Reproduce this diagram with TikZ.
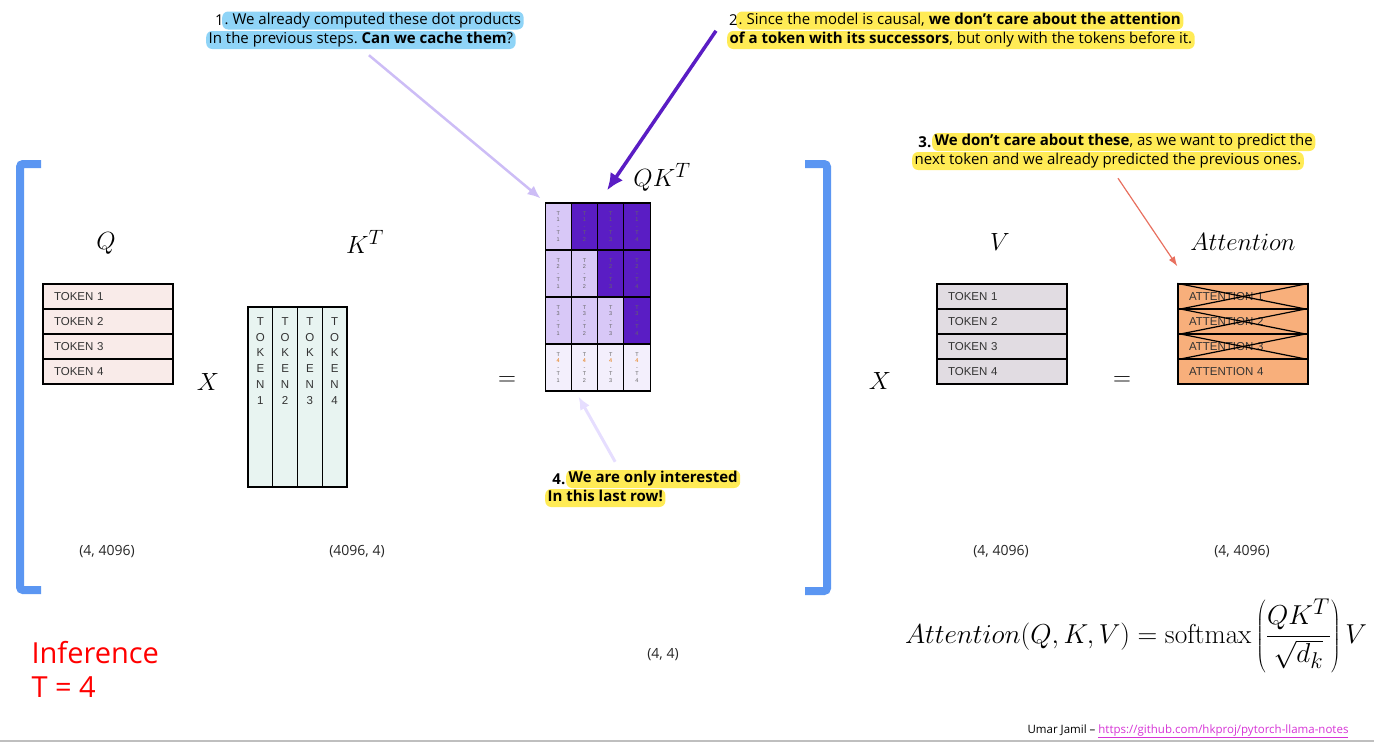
\documentclass[tikz,border=0pt]{standalone}
\usepackage{graphicx}
\usepackage[no-math]{fontspec}
\setmainfont{Open Sans}
\newfontfamily\tokfont{Liberation Sans}
\usetikzlibrary{arrows.meta}
\frenchspacing
\definecolor{bracketblue}{HTML}{5B96F2}
\definecolor{qfill}{HTML}{F9EBE9}
\definecolor{kfill}{HTML}{E8F4F1}
\definecolor{vfill}{HTML}{E1DCE2}
\definecolor{afill}{HTML}{F8AF7B}
\definecolor{qklav}{HTML}{D8C8F7}
\definecolor{qkdark}{HTML}{5A1DC4}
\definecolor{qkpale}{HTML}{F3EFFC}
\definecolor{hlblue}{HTML}{8FD4F7}
\definecolor{hlyellow}{HTML}{FFEB55}
\definecolor{arrlav}{HTML}{CDBDF6}
\definecolor{arrpale}{HTML}{E6DEFF}
\definecolor{arrsalmon}{HTML}{E8705F}
\definecolor{linkmag}{HTML}{D633D6}
\tikzset{
  >=Latex,
  bracket/.style={bracketblue, line width=8pt, rounded corners=3pt},
  mlabel/.style={font=\fontsize{24.88}{30}\selectfont},
  tokrow/.style={draw, line width=1.2pt, minimum width=130pt, minimum height=25pt,
    text width=108pt, inner xsep=11pt, align=left, text=black!80,
    font=\tokfont\fontsize{11.5}{13}\selectfont},
  kcol/.style={draw, line width=1.2pt, fill=kfill, minimum width=24.75pt, minimum height=180pt},
  kletters/.style={anchor=north, align=center, inner sep=0pt, text=black!80,
    font=\tokfont\fontsize{11.5}{15.7}\selectfont},
  qkcell/.style={draw, line width=1.2pt, minimum width=26.25pt, minimum height=47pt,
    align=center, inner sep=0pt, text=black!60, font=\tokfont\fontsize{5.5}{6.6}\selectfont},
  notetxt/.style={font=\fontsize{15}{18}\selectfont, inner xsep=0.5pt},
  hl/.style={notetxt, rounded corners=6pt, inner xsep=2.5pt, inner ysep=1.5pt,
    text height=11pt, text depth=4pt, anchor=west},
  dimtxt/.style={font=\fontsize{14}{16}\selectfont, text=black!85},
  redtxt/.style={font=\fontsize{29}{34}\selectfont, text=red, anchor=base west}
}
\begin{document}
\begin{tikzpicture}[x=1pt,y=-1pt]
  \useasboundingbox (0,0) rectangle (1374,742);
  % brackets
  \draw[bracket] (41,164) -- (20,164) -- (20,590) -- (41,590);
  \draw[bracket] (805,164) -- (827,164) -- (827,591) -- (805,591);

  % Q
  \node[mlabel] (qlab) at (106,243) {$Q$};
  \foreach \i in {1,...,4}
    \node[tokrow, fill=qfill] (q\i) at (108,271.5+25*\i) {TOKEN \i};
  \node[mlabel] (x1) at (208,382) {$X$};

  % K transposed
  \node[mlabel] (klab) at (365,242) {$K^T$};
  \foreach \i in {1,...,4}{
    \node[kcol] (k\i) at (235.6+24.75*\i,397) {};
    \node[kletters] (kl\i) at ([yshift=-11pt]k\i.north) {T\\O\\K\\E\\N\\\i};
  }
  \node[mlabel] (eq1) at (507,381) {$=$};

  % QK^T
  \node[mlabel] (qklab) at (662,177) {$QK^T$};
  \foreach \i in {1,...,4}{
    \foreach \j in {1,...,4}{
      \ifnum\i=4 \def\cellcol{qkpale}\def\digcol{orange!90!black}%
      \else\ifnum\j>\i \def\cellcol{qkdark}\else\def\cellcol{qklav}\fi
        \def\digcol{black!60}\fi
      \node[qkcell, fill=\cellcol] (c\i\j) at (532+26.25*\j,179.5+47*\i)
        {T\\\textcolor{\digcol}{\i}\\-\\T\\\j};
    }
  }

  % V
  \node[mlabel] (x2) at (880,381) {$X$};
  \node[mlabel] (vlab) at (1000,242) {$V$};
  \foreach \i in {1,...,4}
    \node[tokrow, fill=vfill] (v\i) at (1002,271.5+25*\i) {TOKEN \i};
  \node[mlabel] (eq2) at (1122,381) {$=$};

  % attention
  \node[mlabel] (alab) at (1243,242) {$Attention$};
  \foreach \i in {1,...,4}
    \node[tokrow, fill=afill] (a\i) at (1243,271.5+25*\i) {ATTENTION \i};
  \foreach \i in {1,...,3}{
    \draw[line width=1.2pt] (a\i.north west) -- (a\i.south east);
    \draw[line width=1.2pt] (a\i.south west) -- (a\i.north east);
  }

  % shapes
  \node[dimtxt] (dq) at (107,552) {(4, 4096)};
  \node[dimtxt] (dk) at (357,552) {(4096, 4)};
  \node[dimtxt] (dqk) at (663,655) {(4, 4)};
  \node[dimtxt] (dv) at (1001,552) {(4, 4096)};
  \node[dimtxt] (da) at (1242,552) {(4, 4096)};

  % notes
  \node[hl, fill=hlblue] (n1a) at (222,20.5) {. We already computed these dot products};
  \node[notetxt, anchor=east] (n1num) at ([xshift=2.5pt]n1a.west) {1};
  \node[hl, fill=hlblue] (n1b) at (206,40) {In the previous steps. \textbf{Can we cache them}?};

  \node[hl, fill=hlyellow] (n2a) at (736,20.5) {. Since the model is causal, \textbf{we don’t care about the attention}};
  \node[notetxt, anchor=east] (n2num) at ([xshift=2.5pt]n2a.west) {2};
  \node[hl, fill=hlyellow] (n2b) at (727,40) {\textbf{of a token with its successors}, but only with the tokens before it.};

  \node[hl, fill=hlyellow] (n3a) at (932,142) {\textbf{We don’t care about these}, as we want to predict the};
  \node[notetxt, anchor=east] (n3num) at (n3a.west) {\textbf{3.}};
  \node[hl, fill=hlyellow] (n3b) at (912,161) {next token and we already predicted the previous ones.};

  \node[hl, fill=hlyellow] (n4a) at (566,479) {\textbf{We are only interested}};
  \node[notetxt, anchor=east] (n4num) at (n4a.west) {\textbf{4.}};
  \node[hl, fill=hlyellow] (n4b) at (545,498) {\textbf{In this last row!}};

  % arrows
  \draw[->, arrlav, line width=2.5pt, >={Latex[length=13pt,width=11pt]}]
    ([xshift=8pt,yshift=-6pt]n1b.south) -- ([xshift=-4pt,yshift=4pt]c11.north west);
  \draw[->, qkdark, line width=3.5pt, >={Latex[length=17pt,width=15pt]}]
    ([xshift=-11pt]n2b.north west) -- ([xshift=10pt,yshift=12pt]c13.north west);
  \draw[->, arrsalmon, line width=1.2pt, >={Latex[length=10pt,width=7pt]}]
    ([xshift=10pt,yshift=-8pt]n3b.south) -- ([yshift=17pt]a1.north west);
  \draw[->, arrpale, line width=3pt, >={Latex[length=13pt,width=11pt]}]
    ([xshift=-38pt,yshift=8pt]n4a.north) -- ([xshift=-6pt,yshift=-5pt]c42.south);

  % formula
  \node[font=\fontsize{24.88}{30}\selectfont] (formula) at (1136,636)
    {\scalebox{1.1}{$Attention(Q,K,V)=\mathrm{softmax}\left(\displaystyle\frac{QK^T}{\sqrt{d_k}}\right)V$}};

  % left notes
  \node[redtxt] (infer) at (28,663) {Inference};
  \node[redtxt] (tval) at (28,697) {T = 4};

  % footer
  \node[anchor=base east, font=\fontsize{11.5}{13}\selectfont] (credit) at (1352,733)
    {Umar Jamil – \textcolor{linkmag}{\underline{https://github.com/hkproj/pytorch-llama-notes}}};
  \draw[gray!50, line width=1.5pt] (0,741) -- (1374,741);
\end{tikzpicture}
\end{document}
